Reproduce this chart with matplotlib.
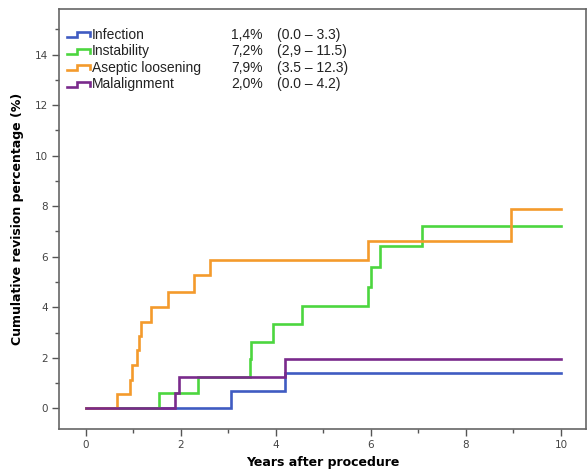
import matplotlib
matplotlib.use('Agg')
import matplotlib.pyplot as plt
from matplotlib.ticker import MultipleLocator

# Kaplan-Meier style cumulative revision curves (years, %)
infection_t = [0, 3.05, 4.19, 10]
infection_y = [0, 0.67, 1.40, 1.40]

instability_t = [0, 1.54, 2.35, 3.45, 3.48, 3.93, 4.55, 5.94, 6.00, 6.18, 7.08, 10]
instability_y = [0, 0.62, 1.24, 1.94, 2.62, 3.33, 4.04, 4.82, 5.61, 6.42, 7.22, 7.22]

aseptic_t = [0, 0.65, 0.93, 0.98, 1.07, 1.12, 1.15, 1.38, 1.72, 2.28, 2.61, 5.93, 8.95, 10]
aseptic_y = [0, 0.56, 1.13, 1.70, 2.29, 2.85, 3.43, 4.00, 4.62, 5.26, 5.88, 6.64, 7.90, 7.90]

malalign_t = [0, 1.87, 1.96, 4.18, 10]
malalign_y = [0, 0.62, 1.24, 1.96, 1.96]

labels = ["Infection", "Instability", "Aseptic loosening", "Malalignment"]
pcts = ["1,4%", "7,2%", "7,9%", "2,0%"]
cis = ["(0.0 \u2013 3.3)", "(2,9 \u2013 11.5)", "(3.5 \u2013 12.3)", "(0.0 \u2013 4.2)"]
colors = ["#3F5BC2", "#4CD63F", "#F49A2C", "#7A2A8C"]

fig = plt.figure(figsize=(5.88, 4.71), dpi=100)
ax = fig.add_axes([0.1009, 0.0892, 0.8952, 0.8917])

series = [(infection_t, infection_y), (instability_t, instability_y),
          (aseptic_t, aseptic_y), (malalign_t, malalign_y)]
for (t, y), c in zip(series, colors):
    ax.plot(t, y, drawstyle='steps-post', color=c, lw=1.9, solid_joinstyle='miter')

ax.set_xlim(-0.56, 10.52)
ax.set_ylim(-0.82, 15.81)
ax.xaxis.set_major_locator(MultipleLocator(2))
ax.xaxis.set_minor_locator(MultipleLocator(1))
ax.yaxis.set_major_locator(MultipleLocator(2))
ax.yaxis.set_minor_locator(MultipleLocator(1))
ax.tick_params(which='major', length=5, width=1, color='#555555', labelsize=7.5,
               labelcolor='#444444', pad=3)
ax.tick_params(which='minor', length=3, width=1, color='#555555')
for s in ax.spines.values():
    s.set_color('#666666')
    s.set_linewidth(1.2)

ax.set_xlabel("Years after procedure", fontsize=9, fontweight='bold', labelpad=4)
ax.set_ylabel("Cumulative revision percentage (%)", fontsize=9, fontweight='bold', labelpad=8)

# legend with step-shaped icons
row_y = [35, 51.5, 68, 84.5]
for i in range(4):
    yc = 1 - (row_y[i] - 9) / 420.0
    lo = yc - 2.5 / 420.0
    hi = yc + 2.5 / 420.0
    x0 = (67 - 59.3) / 526.4
    x1 = (77 - 59.3) / 526.4
    x2 = (89.5 - 59.3) / 526.4
    ax.plot([x0, x1, x1, x2, x2], [lo, lo, hi, hi, lo + 1 / 420.0],
            color=colors[i], lw=1.9, transform=ax.transAxes, clip_on=False,
            solid_joinstyle='miter')
    ax.text((92 - 59.3) / 526.4, yc, labels[i], transform=ax.transAxes,
            fontsize=10, family='Liberation Sans', va='center', ha='left', color='#222222')
    ax.text((231 - 59.3) / 526.4, yc, pcts[i], transform=ax.transAxes,
            fontsize=10, family='Liberation Sans', va='center', ha='left', color='#222222')
    ax.text((277 - 59.3) / 526.4, yc, cis[i], transform=ax.transAxes,
            fontsize=10, family='Liberation Sans', va='center', ha='left', color='#222222')

fig.savefig("out.png", dpi=100)
